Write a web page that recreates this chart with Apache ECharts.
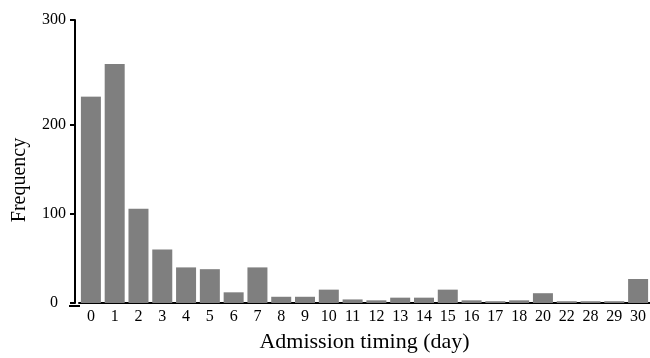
<!DOCTYPE html>
<html>
<head>
<meta charset="utf-8">
<script src="https://cdn.jsdelivr.net/npm/echarts@6/dist/echarts.min.js"></script>
<style>html,body{margin:0;padding:0;background:#fff;}#c{width:650px;height:358px;}</style>
</head>
<body>
<div id="c"></div>
<script>
var days = ['0','1','2','3','4','5','6','7','8','9','10','11','12','13','14','15','16','17','18','20','22','28','29','30'];
var freq = [227,258,106,60,40,38,12,40,7,7,15,4,3,6,6,15,3,2,3,11,2,2,2,27];
var lowTicks = [0, 100, 200];
var highTicks = [200, 300];
var yName = 'Frequency';
var xName = 'Admission timing (day)';

var FONT = '"Liberation Serif","Times New Roman",serif';
var chart = echarts.init(document.getElementById('c'), null, {renderer: 'canvas'});
var axisLineStyle = {color: '#000', width: 2};
chart.setOption({
  animation: false,
  backgroundColor: '#fff',
  grid: [
    {left: 79, right: -5, top: 125, bottom: 52, containLabel: false},
    {left: 79, right: -5, top: 20, height: 105, containLabel: false}
  ],
  xAxis: [
    {
      type: 'category', gridIndex: 0, data: days,
      axisLine: {lineStyle: axisLineStyle},
      axisTick: {alignWithLabel: true, length: 4, lineStyle: {width: 2, color: '#000'}},
      axisLabel: {color: '#000', fontFamily: FONT, fontSize: 16, margin: 6, interval: 0},
      name: xName, nameLocation: 'middle', nameGap: 28,
      nameTextStyle: {color: '#000', fontFamily: FONT, fontSize: 22}
    },
    {type: 'category', gridIndex: 1, data: days, show: false}
  ],
  yAxis: [
    {
      type: 'value', gridIndex: 0, min: lowTicks[0], max: lowTicks[lowTicks.length - 1], interval: 100,
      offset: 4,
      axisLine: {show: true, lineStyle: axisLineStyle},
      axisTick: {show: true, length: 5, lineStyle: {width: 2, color: '#000'}},
      axisLabel: {color: '#000', fontFamily: FONT, fontSize: 16, align: 'center', margin: 21},
      splitLine: {show: false}
    },
    {
      type: 'value', gridIndex: 1, min: highTicks[0], max: highTicks[highTicks.length - 1], interval: 100,
      offset: 4,
      axisLine: {show: true, lineStyle: axisLineStyle},
      axisTick: {show: true, length: 5, lineStyle: {width: 2, color: '#000'}},
      axisLabel: {color: '#000', fontFamily: FONT, fontSize: 16, align: 'center', margin: 21, showMinLabel: false},
      splitLine: {show: false}
    }
  ],
  series: [
    {
      type: 'bar', xAxisIndex: 0, yAxisIndex: 0, data: freq, barWidth: 20, clip: true,
      itemStyle: {color: '#7f7f7f'}, z: 1
    },
    {
      type: 'bar', xAxisIndex: 1, yAxisIndex: 1,
      data: freq.map(function (v) { return v > highTicks[0] ? v : '-'; }),
      barWidth: 20, clip: true, itemStyle: {color: '#7f7f7f'}, z: 1
    }
  ],
  graphic: [
    {
      type: 'text', x: 20, y: 180, rotation: Math.PI / 2,
      style: {text: yName, fill: '#000', font: '20px ' + FONT, textAlign: 'center', textVerticalAlign: 'middle'}
    },
    {
      type: 'line', shape: {x1: 69, y1: 306, x2: 80, y2: 306},
      style: {stroke: '#000', lineWidth: 2}, z: 10
    }
  ]
});
</script>
</body>
</html>
